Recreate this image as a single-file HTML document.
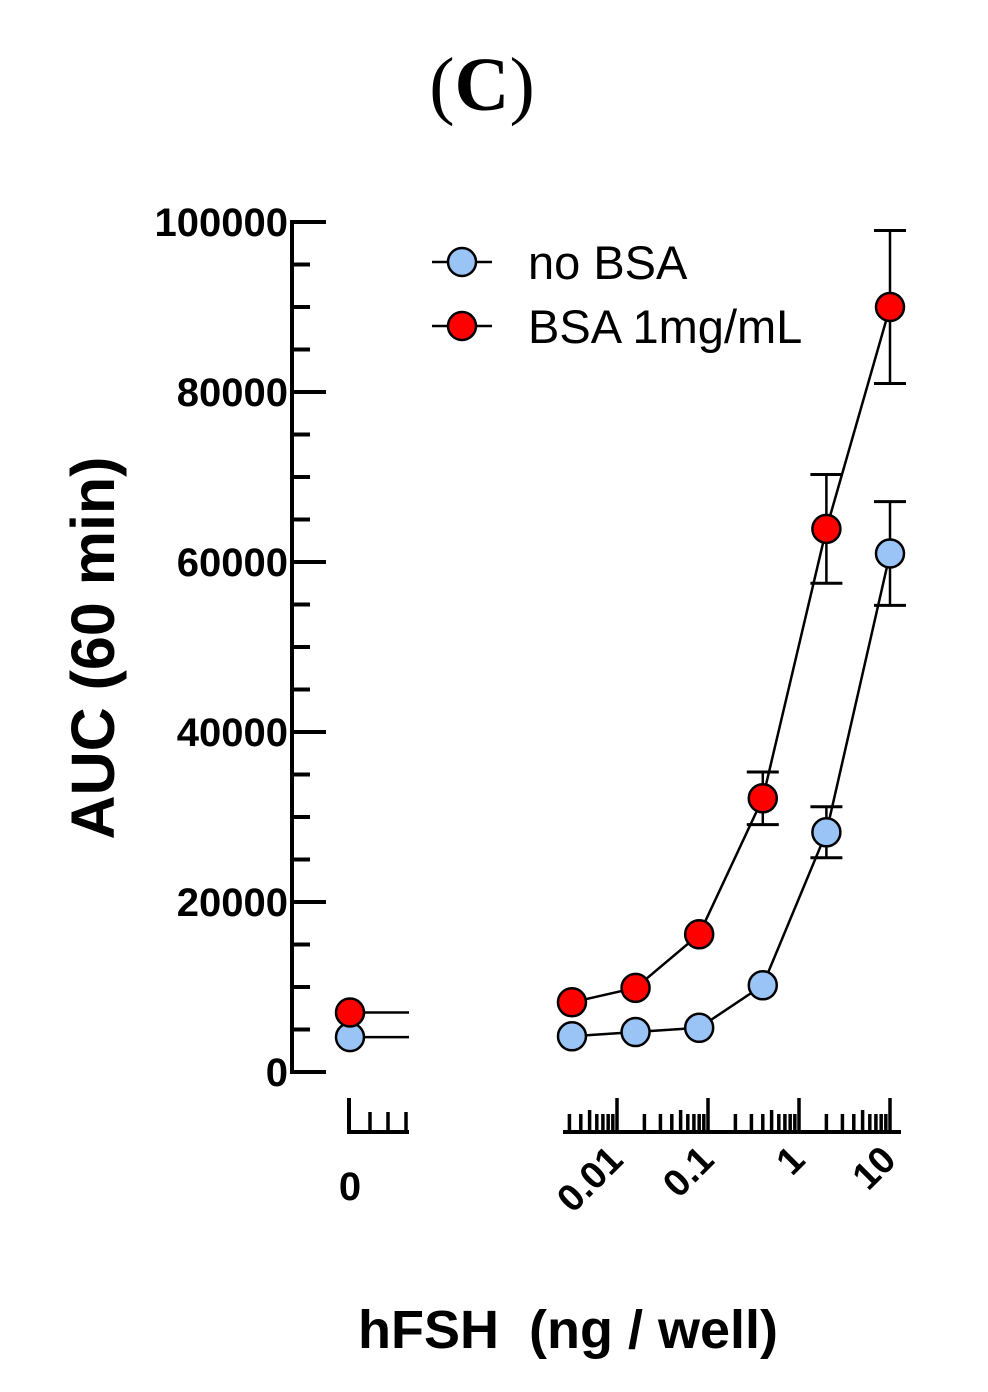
<!DOCTYPE html>
<html><head><meta charset="utf-8"><style>
html,body{margin:0;padding:0;background:#fff;}
svg{display:block;}
</style></head><body>
<svg id="chart" width="988" height="1392" xmlns="http://www.w3.org/2000/svg">
<text x="482" y="110" text-anchor="middle" font-family="Liberation Serif, serif" font-size="76">(<tspan font-weight="bold">C</tspan>)</text>
<g id="yaxis"></g>
<g id="xaxis"></g>
<g id="series"></g>
<text transform="translate(114,648) rotate(-90)" text-anchor="middle" font-family="Liberation Sans, sans-serif" font-weight="bold" font-size="61">AUC (60 min)</text>
<text x="568" y="1348" text-anchor="middle" font-family="Liberation Sans, sans-serif" font-weight="bold" font-size="54" xml:space="preserve">hFSH  (ng / well)</text>
<g>
<g>
<line x1="432" y1="262" x2="492" y2="262" stroke="#000" stroke-width="2.5"/>
<circle cx="462" cy="262" r="14" fill="#99c4f5" stroke="#000" stroke-width="2.5"/>
<text x="528" y="279" font-family="Liberation Sans, sans-serif" font-size="47">no BSA</text>
</g>
<g>
<line x1="432" y1="326" x2="492" y2="326" stroke="#000" stroke-width="2.5"/>
<circle cx="462" cy="326" r="14" fill="#ff0000" stroke="#000" stroke-width="2.5"/>
<text x="528" y="343" font-family="Liberation Sans, sans-serif" font-size="47">BSA 1mg/mL</text>
</g>
</g>
</svg>
<script>
const doses = [0.0032, 0.016, 0.08, 0.4, 2, 10];
const zeroNoBSA = 4100;
const zeroBSA = 7000;
const noBSA = [4200, 4700, 5200, 10200, 28200, 61000];
const noBSAErr = [0, 0, 0, 0, 3000, 6100];
const withBSA = [8200, 9900, 16200, 32200, 63900, 90000];
const withBSAErr = [0, 0, 0, 3100, 6400, 9000];
const yTicks = [0, 20000, 40000, 60000, 80000, 100000];
const xTickLabels = ["0.01", "0.1", "1", "10"];
const xTickValues = [0.01, 0.1, 1, 10];

const NS = "http://www.w3.org/2000/svg";
const Y = v => 1072 - v * 0.0085;
const X = v => 617 + 91 * (Math.log10(v) + 2);
const X0 = 350;
function mk(tag, attrs, parent) {
  const e = document.createElementNS(NS, tag);
  for (const k in attrs) e.setAttribute(k, attrs[k]);
  parent.appendChild(e);
  return e;
}
const ya = document.getElementById('yaxis');
mk('line', {x1:292, y1:Y(100000)-2, x2:292, y2:Y(0)+2, stroke:'#000', 'stroke-width':4}, ya);
for (let v = 0; v <= 100000; v += 5000) {
  const major = v % 20000 === 0;
  const t = mk('line', {x1:290, y1:Y(v), x2: major ? 326 : 310, y2:Y(v), stroke:'#000', 'stroke-width':4}, ya);
  
  
}
yTicks.forEach(v => {
  const t = mk('text', {x:288, y:Y(v)+14, 'text-anchor':'end', 'font-family':'Liberation Sans, sans-serif', 'font-weight':'bold', 'font-size':40}, ya);
  t.textContent = String(v);
  
  
});
const xa = document.getElementById('xaxis');
const base = 1132;
mk('line', {x1:347, y1:base, x2:409, y2:base, stroke:'#000', 'stroke-width':4}, xa);
mk('line', {x1:349, y1:base, x2:349, y2:1098, stroke:'#000', 'stroke-width':4}, xa);
[370, 388, 406].forEach(x => mk('line', {x1:x, y1:base, x2:x, y2:1112, stroke:'#000', 'stroke-width':3.5}, xa));
const z = mk('text', {x:350, y:1200, 'text-anchor':'middle', 'font-family':'Liberation Sans, sans-serif', 'font-weight':'bold', 'font-size':40}, xa);
z.textContent = '0';


mk('line', {x1:563, y1:base, x2:901, y2:base, stroke:'#000', 'stroke-width':4}, xa);
for (let d = -3; d <= 1; d++) {
  for (let m = 1; m <= 9; m++) {
    const v = m * Math.pow(10, d);
    const x = X(v);
    if (x < 564 || x > 900) continue;
    const h = m === 1 ? 34 : (m === 5 ? 22 : 18);
    mk('line', {x1:x, y1:base, x2:x, y2:base - h, stroke:'#000', 'stroke-width':3.5}, xa);
  }
}
xTickValues.forEach((v, i) => {
  const x = X(v), y = 1162;
  const t = mk('text', {x:x+8, y:y, 'text-anchor':'end', transform:`rotate(-45 ${x+8} ${y})`, 'font-family':'Liberation Sans, sans-serif', 'font-weight':'bold', 'font-size':38}, xa);
  t.textContent = xTickLabels[i];
  
  
});
const sg = document.getElementById('series');
function drawSeries(vals, errs, zeroVal, color, name) {
  const g = mk('g', {}, sg);
  
  
  mk('line', {x1:X0, y1:Y(zeroVal), x2:409, y2:Y(zeroVal), stroke:'#000', 'stroke-width':2.5}, g);
  const pts = vals.map((v, i) => X(doses[i]) + ',' + Y(v)).join(' ');
  mk('polyline', {points:pts, fill:'none', stroke:'#000', 'stroke-width':2.5}, g);
  vals.forEach((v, i) => {
    if (!errs[i]) return;
    const x = X(doses[i]);
    mk('line', {x1:x, y1:Y(v+errs[i]), x2:x, y2:Y(v-errs[i]), stroke:'#000', 'stroke-width':2.5}, g);
    mk('line', {x1:x-16, y1:Y(v+errs[i]), x2:x+16, y2:Y(v+errs[i]), stroke:'#000', 'stroke-width':3}, g);
    mk('line', {x1:x-16, y1:Y(v-errs[i]), x2:x+16, y2:Y(v-errs[i]), stroke:'#000', 'stroke-width':3}, g);
  });
  const c0 = mk('circle', {cx:X0, cy:Y(zeroVal), r:14, fill:color, stroke:'#000', 'stroke-width':2.5}, g);
  
  
  vals.forEach((v, i) => {
    const c = mk('circle', {cx:X(doses[i]), cy:Y(v), r:14, fill:color, stroke:'#000', 'stroke-width':2.5}, g);
    
    
  });
}
drawSeries(noBSA, noBSAErr, zeroNoBSA, '#99c4f5', 'series-no-bsa');
drawSeries(withBSA, withBSAErr, zeroBSA, '#ff0000', 'series-bsa-1mg');
</script>
</body></html>
